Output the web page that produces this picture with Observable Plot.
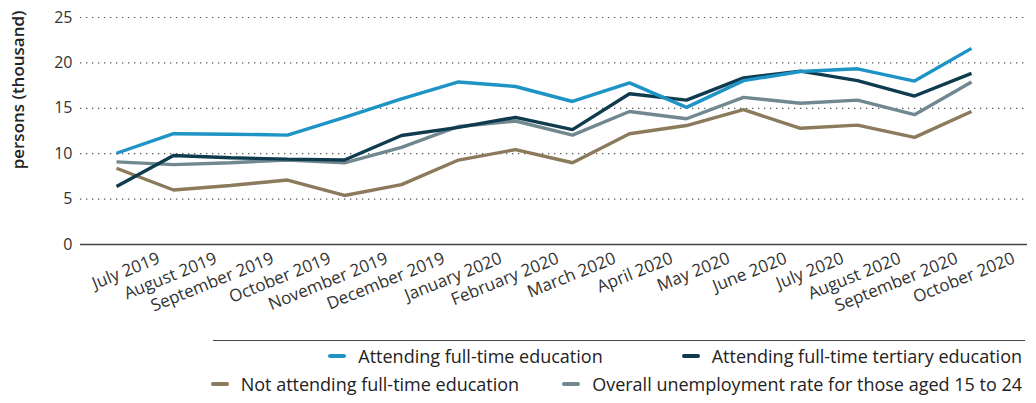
<!DOCTYPE html>
<html>
<head>
<meta charset="utf-8">
<script src="https://cdn.jsdelivr.net/npm/d3@7"></script>
<script src="https://cdn.jsdelivr.net/npm/@observablehq/plot@0.6"></script>
<style>
  html, body { margin: 0; padding: 0; background: #fff; }
  body { width: 1036px; height: 403px; overflow: hidden; font-family: "Open Sans", sans-serif; color: #222; }
  #chart svg { display: block; }
  .legend { position: relative; width: 1036px; }
  .legend .rule { position: absolute; left: 213px; width: 812px; top: 5px; border-top: 1px solid #444; }
  .legend .row { position: absolute; right: 14px; display: flex; align-items: center; font-size: 18px; line-height: 22px; white-space: nowrap; }
  .legend .item { display: flex; align-items: center; }
  .legend .sw { width: 18px; height: 4px; border-radius: 2px; margin-right: 12px; }
</style>
</head>
<body>
<div id="chart"></div>
<div class="legend" id="legend"></div>
<script>
const months = ["July 2019", "August 2019", "September 2019", "October 2019", "November 2019", "December 2019",
  "January 2020", "February 2020", "March 2020", "April 2020", "May 2020", "June 2020",
  "July 2020", "August 2020", "September 2020", "October 2020"];
const seriesNames = ["Attending full-time education", "Attending full-time tertiary education",
  "Not attending full-time education", "Overall unemployment rate for those aged 15 to 24"];
const attendingFT = [10.05, 12.2, 12.15, 12.05, 14.0, 16.05, 17.9, 17.4, 15.75, 17.8, 15.1, 18.05, 19.05, 19.35, 18.0, 21.6];
const attendingTertiary = [6.4, 9.8, 9.55, 9.4, 9.3, 12.0, 12.9, 14.0, 12.65, 16.6, 15.9, 18.35, 19.1, 18.05, 16.35, 18.85];
const notAttending = [8.4, 6.0, 6.5, 7.1, 5.4, 6.6, 9.3, 10.45, 9.0, 12.2, 13.1, 14.85, 12.8, 13.15, 11.8, 14.65];
const overall = [9.1, 8.8, 9.0, 9.3, 9.0, 10.7, 13.0, 13.6, 12.05, 14.65, 13.85, 16.2, 15.55, 15.9, 14.3, 17.9];
const yTicks = [0, 5, 10, 15, 20, 25];
const yLabel = "persons (thousand)";
const colors = ["#1e93c6", "#0f3b4f", "#8b7a5c", "#718890"];

const valueArrays = [attendingFT, attendingTertiary, notAttending, overall];
const rows = [];
valueArrays.forEach((vals, s) => vals.forEach((v, i) => rows.push({series: seriesNames[s], month: months[i], value: v})));
// drawing order (bottom to top)
const drawOrder = [seriesNames[3], seriesNames[2], seriesNames[1], seriesNames[0]];

const chart = Plot.plot({
  width: 1036,
  height: 335,
  marginLeft: 80,
  marginRight: 9,
  marginTop: 17,
  marginBottom: 91,
  style: {fontFamily: "'Open Sans', sans-serif", fontSize: "16px", color: "#333", background: "#fff"},
  x: {type: "point", domain: months, padding: 0, insetLeft: 32, insetRight: 53, axis: null},
  y: {domain: [0, 25], axis: null},
  color: {domain: seriesNames, range: colors},
  marks: [
    Plot.ruleY(yTicks.filter(d => d > 0), {stroke: "#555", strokeWidth: 1.2, strokeDasharray: "1.3,4.7"}),
    Plot.ruleY([0], {stroke: "#444", strokeWidth: 1.5}),
    Plot.axisY({ticks: yTicks, tickSize: 0, tickPadding: 8, label: null, fontSize: 16, fill: "#333"}),
    ...drawOrder.map(name => Plot.line(rows.filter(r => r.series === name),
      {x: "month", y: "value", stroke: "series", strokeWidth: 3.4, strokeLinejoin: "miter", strokeLinecap: "butt"})),
    Plot.text(months, {x: d => d, frameAnchor: "bottom", rotate: -22, textAnchor: "end", lineAnchor: "top",
      dx: 40, dy: 7, fontSize: 17, fill: "#333"}),
    Plot.text([yLabel], {frameAnchor: "top-left", rotate: -90, textAnchor: "end", lineAnchor: "middle",
      dx: -62, dy: -7, fontSize: 17, fontWeight: 600, fill: "#222"})
  ]
});
document.getElementById("chart").appendChild(chart);

// Legend
const legend = document.getElementById("legend");
const rule = document.createElement("div");
rule.className = "rule";
legend.appendChild(rule);
const legendRows = [
  {items: [0, 1], top: 10, gap: 79},
  {items: [2, 3], top: 38, gap: 43}
];
legendRows.forEach(r => {
  const row = document.createElement("div");
  row.className = "row";
  row.style.top = r.top + "px";
  row.style.gap = r.gap + "px";
  r.items.forEach(i => {
    const it = document.createElement("div");
    it.className = "item";
    const sw = document.createElement("span");
    sw.className = "sw";
    sw.style.background = colors[i];
    const tx = document.createElement("span");
    tx.textContent = seriesNames[i];
    it.appendChild(sw);
    it.appendChild(tx);
    row.appendChild(it);
  });
  legend.appendChild(row);
});
</script>
</body>
</html>
